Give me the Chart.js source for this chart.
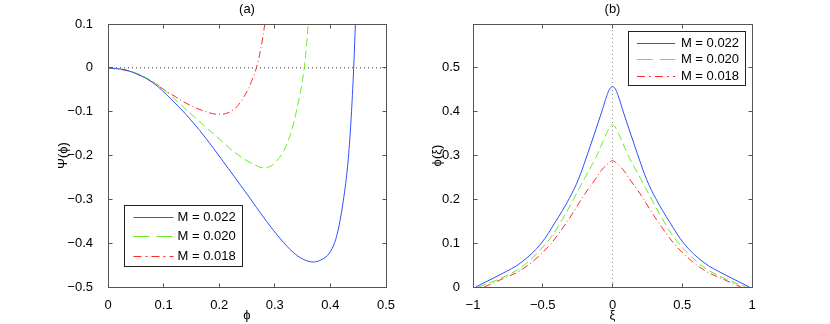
<!DOCTYPE html>
<html>
<head>
<meta charset="utf-8">
<script src="https://cdn.jsdelivr.net/npm/chart.js@4.4.1/dist/chart.umd.min.js"></script>
<style>
  html, body { margin: 0; padding: 0; background: #fff; }
  #wrap { position: relative; width: 830px; height: 324px; }
  canvas { position: absolute; top: 0; }
</style>
</head>
<body>
<div id="wrap">
  <canvas id="chartA" width="415" height="324" style="left:0"></canvas>
  <canvas id="chartB" width="415" height="324" style="left:415px"></canvas>
</div>
<script>
const machLabels = ['M = 0.022', 'M = 0.020', 'M = 0.018'];
const lineColors = ['#3050ff', '#66ee22', '#ff2828'];

// (a) Psi(phi)
const phi022 = [0, 0.03, 0.054, 0.08, 0.114, 0.14, 0.165, 0.19, 0.216, 0.25, 0.285, 0.31, 0.333, 0.35, 0.369, 0.385, 0.398, 0.411, 0.423, 0.432, 0.438, 0.4424, 0.445, 0.447];
const psi022 = [0, -0.0045, -0.0153, -0.033, -0.072, -0.106, -0.143, -0.184, -0.229, -0.288, -0.35, -0.39, -0.421, -0.436, -0.443, -0.437, -0.423, -0.385, -0.305, -0.21, -0.1, 0.015, 0.1, 0.16];
const phi020 = [0, 0.03, 0.05, 0.084, 0.114, 0.144, 0.174, 0.2, 0.225, 0.25, 0.265, 0.279, 0.293, 0.305, 0.318, 0.327, 0.335, 0.342, 0.348, 0.353, 0.357, 0.36, 0.363];
const psi020 = [0, -0.004, -0.012, -0.034, -0.065, -0.099, -0.133, -0.162, -0.19, -0.212, -0.222, -0.228, -0.224, -0.21, -0.185, -0.156, -0.12, -0.08, -0.042, 0, 0.05, 0.1, 0.16];
const phi018 = [0, 0.04, 0.06, 0.084, 0.11, 0.144, 0.171, 0.198, 0.213, 0.225, 0.235, 0.243, 0.252, 0.258, 0.267, 0.275, 0.282, 0.286];
const psi018 = [0, -0.008, -0.018, -0.036, -0.057, -0.083, -0.098, -0.106, -0.104, -0.096, -0.084, -0.069, -0.049, -0.031, 0, 0.045, 0.1, 0.14];
const zeroLinePhi = [0, 0.5];
const zeroLinePsi = [0, 0];

// (b) phi(xi)
const xi022 = [-0.98, -0.9, -0.8, -0.65, -0.51, -0.41, -0.31, -0.245, -0.16, -0.08, -0.04, -0.02, 0, 0.02, 0.04, 0.08, 0.16, 0.245, 0.31, 0.41, 0.51, 0.65, 0.8, 0.9, 0.98];
const prof022 = [0, 0.013, 0.029, 0.057, 0.1, 0.148, 0.202, 0.245, 0.321, 0.397, 0.437, 0.452, 0.457, 0.452, 0.437, 0.397, 0.321, 0.245, 0.202, 0.148, 0.1, 0.057, 0.029, 0.013, 0];
const xi020 = [-0.96, -0.8, -0.65, -0.51, -0.43, -0.34, -0.28, -0.2, -0.12, -0.064, -0.025, 0, 0.025, 0.064, 0.12, 0.2, 0.28, 0.34, 0.43, 0.51, 0.65, 0.8, 0.96];
const prof020 = [0, 0.02, 0.046, 0.087, 0.118, 0.165, 0.2, 0.248, 0.295, 0.335, 0.362, 0.37, 0.362, 0.335, 0.295, 0.248, 0.2, 0.165, 0.118, 0.087, 0.046, 0.02, 0];
const xi018 = [-0.92, -0.8, -0.654, -0.46, -0.317, -0.195, -0.125, -0.075, -0.03, 0, 0.03, 0.075, 0.125, 0.195, 0.317, 0.46, 0.654, 0.8, 0.92];
const prof018 = [0, 0.017, 0.039, 0.092, 0.153, 0.214, 0.245, 0.268, 0.282, 0.288, 0.282, 0.268, 0.245, 0.214, 0.153, 0.092, 0.039, 0.017, 0];
const centerLineXi = [0, 0];
const centerLinePhi = [0, 0.6];

// ticks
const phiTicks = [0, 0.1, 0.2, 0.3, 0.4, 0.5];
const phiTickLabels = ['0', '0.1', '0.2', '0.3', '0.4', '0.5'];
const psiTicks = [-0.5, -0.4, -0.3, -0.2, -0.1, 0, 0.1];
const psiTickLabels = ['\u22120.5', '\u22120.4', '\u22120.3', '\u22120.2', '\u22120.1', '0', '0.1'];
const xiTicks = [-1, -0.5, 0, 0.5, 1];
const xiTickLabels = ['\u22121', '\u22120.5', '0', '0.5', '1'];
const profTicks = [0, 0.1, 0.2, 0.3, 0.4, 0.5];
const profTickLabels = ['0', '0.1', '0.2', '0.3', '0.4', '0.5'];

const dashes = [[], [8, 4], [7, 3, 1, 3]];
const legendDashes = [[], [16, 7], [8, 4, 2, 4]];

Chart.defaults.font.family = '"Liberation Sans", Arial, "DejaVu Sans", sans-serif';
Chart.defaults.font.size = 13;
Chart.defaults.color = '#000';

const pts = (xs, ys) => xs.map((v, i) => ({ x: v, y: ys[i] }));

function curve(i, xs, ys) {
  return {
    label: machLabels[i],
    data: pts(xs, ys),
    borderColor: lineColors[i],
    borderWidth: 1,
    borderDash: dashes[i],
    pointRadius: 0,
    showLine: true,
    fill: false,
    cubicInterpolationMode: 'monotone'
  };
}

function refLine(xs, ys, color) {
  return {
    label: '',
    data: pts(xs, ys),
    borderColor: color,
    borderWidth: 1,
    borderDash: [1, 3],
    pointRadius: 0,
    showLine: true,
    fill: false
  };
}

// box frame + inward ticks on all four sides
const frameTicks = {
  id: 'frameTicks',
  afterDatasetsDraw(chart) {
    const { ctx, chartArea: a, scales: { x, y } } = chart;
    const L = Math.floor(a.left) + 0.5, R = Math.floor(a.right) + 0.5;
    const T = Math.floor(a.top) + 0.5, B = Math.floor(a.bottom) + 0.5;
    ctx.save();
    ctx.strokeStyle = '#555';
    ctx.lineWidth = 1;
    ctx.setLineDash([]);
    ctx.strokeRect(L, T, R - L, B - T);
    ctx.beginPath();
    x.ticks.forEach(t => {
      const px = Math.floor(x.getPixelForValue(t.value)) + 0.5;
      if (px <= L + 1 || px >= R - 1) return;
      ctx.moveTo(px, B); ctx.lineTo(px, B - 4);
      ctx.moveTo(px, T); ctx.lineTo(px, T + 4);
    });
    y.ticks.forEach(t => {
      const py = Math.floor(y.getPixelForValue(t.value)) + 0.5;
      if (py <= T + 1 || py >= B - 1) return;
      ctx.moveTo(L, py); ctx.lineTo(L + 4, py);
      ctx.moveTo(R, py); ctx.lineTo(R - 4, py);
    });
    ctx.stroke();
    ctx.restore();
  }
};

// legend box inside the axes
const boxLegend = {
  id: 'boxLegend',
  afterDraw(chart, args, o) {
    const { ctx, chartArea: a } = chart;
    const bx = Math.floor(a.left + o.left) + 0.5;
    const by = Math.floor(a.top + o.top) + 0.5;
    ctx.save();
    ctx.fillStyle = '#fff';
    ctx.fillRect(bx, by, o.w, o.h);
    ctx.strokeStyle = '#222';
    ctx.lineWidth = 1;
    ctx.strokeRect(bx, by, o.w, o.h);
    ctx.font = '13px "Liberation Sans", Arial, sans-serif';
    ctx.textBaseline = 'middle';
    ctx.textAlign = 'left';
    for (let i = 0; i < 3; i++) {
      const ds = chart.data.datasets[i];
      const ry = Math.round(by + o.row0 + i * o.rowStep) + 0.5;
      ctx.strokeStyle = ds.borderColor;
      ctx.setLineDash(legendDashes[i]);
      ctx.beginPath();
      ctx.moveTo(bx + o.l0, ry);
      ctx.lineTo(bx + o.l1, ry);
      ctx.stroke();
      ctx.fillStyle = '#000';
      ctx.fillText(ds.label, bx + o.tx, ry);
    }
    ctx.restore();
  }
};

function axis(min, max, ticks, labels, title, extra) {
  return Object.assign({
    type: 'linear',
    min: min,
    max: max,
    afterBuildTicks: s => { s.ticks = ticks.map(v => ({ value: v })); },
    grid: { display: false },
    border: { display: false },
    ticks: { autoSkip: false, maxRotation: 0, color: '#000', callback: (v, i) => labels[i] },
    title: { display: true, text: title, color: '#000', font: { size: 13 } }
  }, extra);
}

function makeChart(id, cfg) {
  return new Chart(document.getElementById(id), {
    type: 'scatter',
    data: { datasets: cfg.datasets },
    options: {
      responsive: false,
      animation: false,
      events: [],
      layout: { padding: cfg.padding },
      scales: {
        x: cfg.x,
        y: cfg.y
      },
      plugins: {
        legend: { display: false },
        tooltip: { enabled: false },
        title: {
          display: true, text: cfg.title, fullSize: false, color: '#000',
          font: { size: 13, weight: 'normal' }, padding: { top: 2, bottom: 6.4 }
        },
        boxLegend: cfg.legend
      }
    },
    plugins: [frameTicks, boxLegend]
  });
}

const xA = axis(0, 0.5, phiTicks, phiTickLabels, '\u03d5', { afterFit: s => { s.height = 37; } });
xA.ticks.padding = 3;
xA.title.padding = { top: 0, bottom: 1 };
const yA = axis(-0.5, 0.1, psiTicks, psiTickLabels, '\u03a8(\u03d5)', { afterFit: s => { s.width = 108; } });
yA.ticks.padding = 7;
yA.title.padding = { top: 56, bottom: 0 };

makeChart('chartA', {
  title: '(a)',
  padding: { left: 0, right: 29, top: 0, bottom: 0 },
  x: xA,
  y: yA,
  datasets: [
    curve(0, phi022, psi022),
    curve(1, phi020, psi020),
    curve(2, phi018, psi018),
    refLine(zeroLinePhi, zeroLinePsi, '#333')
  ],
  legend: { left: 16, top: 181, w: 118, h: 61, row0: 11.7, rowStep: 19.2, l0: 9, l1: 49, tx: 53 }
});

const xB = axis(-1, 1, xiTicks, xiTickLabels, '\u03be', { afterFit: s => { s.height = 37; } });
xB.ticks.padding = 3;
xB.title.padding = { top: 0, bottom: 1 };
const yB = axis(0, 0.6, profTicks, profTickLabels, '\u03d5(\u03be)', { afterFit: s => { s.width = 58; } });
yB.ticks.padding = 5;
yB.title.padding = { top: 15, bottom: 0 };

makeChart('chartB', {
  title: '(b)',
  padding: { left: 0, right: 78, top: 0, bottom: 0 },
  x: xB,
  y: yB,
  datasets: [
    curve(0, xi022, prof022),
    curve(1, xi020, prof020),
    curve(2, xi018, prof018),
    refLine(centerLineXi, centerLinePhi, '#888')
  ],
  legend: { left: 155, top: 7, w: 117, h: 54, row0: 11, rowStep: 16.7, l0: 8.4, l1: 46.7, tx: 52.4 }
});
</script>
</body>
</html>
